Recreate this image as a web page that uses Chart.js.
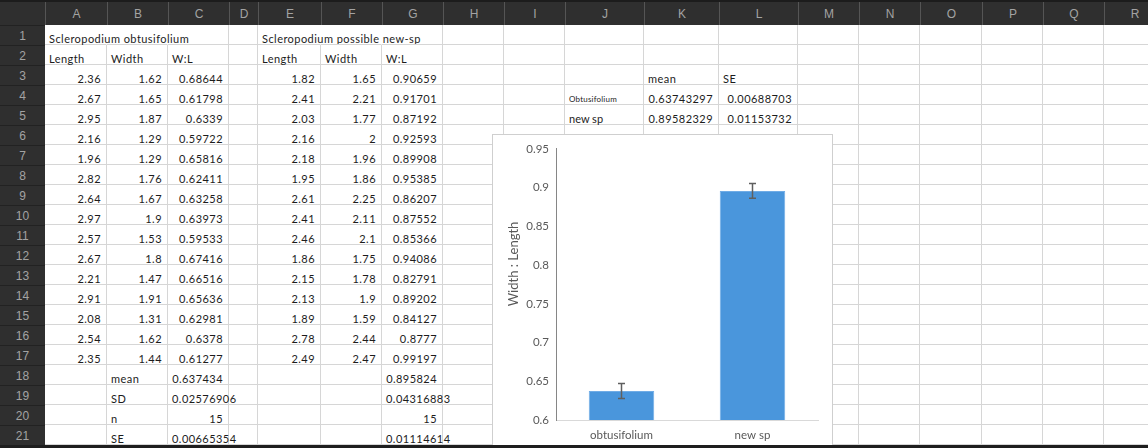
<!DOCTYPE html>
<html>
<head>
<meta charset="utf-8">
<script src="https://cdn.jsdelivr.net/npm/chart.js@4.4.1/dist/chart.umd.min.js"></script>
<style>
html, body { margin: 0; padding: 0; background: #fff; overflow: hidden; }
#sheet { position: relative; width: 1148px; height: 448px; overflow: hidden; background: #fff; font-family: Lato, sans-serif; }
.hd { position: absolute; box-sizing: border-box; background: #2f2f2f; color: #a3a3a3;
      font-family: "Liberation Sans", Arial, sans-serif; font-size: 12px; text-align: center; }
.cell { position: absolute; box-sizing: border-box; border-right: 1px solid #d6d6d6; border-bottom: 1px solid #d6d6d6;
        font-size: 11px; letter-spacing: 0.45px; color: #1c1c1c; white-space: nowrap; padding: 6px 5px 0 4px; line-height: 16px; }
.num { text-align: right; }
.nob { border-right-color: transparent; }
#chartBox { position: absolute; left: 492px; top: 134px; width: 341px; height: 330px; box-sizing: border-box;
            border: 1px solid #cfcfcf; background: #fff; z-index: 5; }
#bottomBar { position: absolute; left: 0; top: 445px; width: 1148px; height: 3px; background: #1e1e1e; z-index: 9; }
</style>
</head>
<body>
<div id="sheet">
  <div id="chartBox"><canvas id="wlChart" width="339" height="328"></canvas></div>
  <div id="bottomBar"></div>
</div>
<script>
// chart data
const groups = ['obtusifolium', 'new sp'];
const wlMean = [0.6374, 0.8958];
const wlErr = [0.0097, 0.0094];

// sheet data
const obtLength = ['2.36', '2.67', '2.95', '2.16', '1.96', '2.82', '2.64', '2.97', '2.57', '2.67', '2.21', '2.91', '2.08', '2.54', '2.35'];
const obtWidth = ['1.62', '1.65', '1.87', '1.29', '1.29', '1.76', '1.67', '1.9', '1.53', '1.8', '1.47', '1.91', '1.31', '1.62', '1.44'];
const obtRatio = ['0.68644', '0.61798', '0.6339', '0.59722', '0.65816', '0.62411', '0.63258', '0.63973', '0.59533', '0.67416', '0.66516', '0.65636', '0.62981', '0.6378', '0.61277'];
const newLength = ['1.82', '2.41', '2.03', '2.16', '2.18', '1.95', '2.61', '2.41', '2.46', '1.86', '2.15', '2.13', '1.89', '2.78', '2.49'];
const newWidth = ['1.65', '2.21', '1.77', '2', '1.96', '1.86', '2.25', '2.11', '2.1', '1.75', '1.78', '1.9', '1.59', '2.44', '2.47'];
const newRatio = ['0.90659', '0.91701', '0.87192', '0.92593', '0.89908', '0.95385', '0.86207', '0.87552', '0.85366', '0.94086', '0.82791', '0.89202', '0.84127', '0.8777', '0.99197'];
const statNames = ['mean', 'SD', 'n', 'SE'];
const obtStats = ['0.637434', '0.02576906', '15', '0.00665354'];
const newStats = ['0.895824', '0.04316883', '15', '0.01114614'];

const colEdges = [45, 107, 168, 229, 258, 321, 382, 443, 504, 565, 644, 719, 798, 859, 920, 982, 1043, 1104, 1165];
const colNames = 'ABCDEFGHIJKLMNOPQR'.split('');
const rowCount = 22;
const sheet = document.getElementById('sheet');

function add(cls, x, y, w, h, text, style) {
    const d = document.createElement('div');
    d.className = cls;
    d.style.left = x + 'px';
    d.style.top = y + 'px';
    d.style.width = w + 'px';
    d.style.height = h + 'px';
    if (text !== undefined) d.textContent = text;
    if (style) Object.assign(d.style, style);
    sheet.appendChild(d);
    return d;
}

const cells = {};
for (let r = 1; r <= rowCount; r++) {
    for (let c = 0; c < colNames.length; c++) {
        const x = colEdges[c], w = colEdges[c + 1] - x;
        cells[colNames[c] + r] = add('cell', x, 25 + 20 * (r - 1), w, 20);
    }
}
function put(ref, text, isNum, style) {
    const d = cells[ref];
    d.textContent = text;
    if (isNum) d.classList.add('num');
    if (style) Object.assign(d.style, style);
}

put('A1', 'Scleropodium obtusifolium');
put('E1', 'Scleropodium possible new-sp');
['A1', 'B1', 'E1', 'F1'].forEach(k => cells[k].classList.add('nob'));
['A', 'E'].forEach(c => put(c + '2', 'Length'));
['B', 'F'].forEach(c => put(c + '2', 'Width'));
['C', 'G'].forEach(c => put(c + '2', 'W:L'));
for (let i = 0; i < 15; i++) {
    const r = i + 3;
    put('A' + r, obtLength[i], true);
    put('B' + r, obtWidth[i], true);
    put('C' + r, obtRatio[i], true);
    put('E' + r, newLength[i], true);
    put('F' + r, newWidth[i], true);
    put('G' + r, newRatio[i], true);
}
statNames.forEach((s, i) => {
    put('B' + (18 + i), s);
    put('C' + (18 + i), obtStats[i], true);
    put('G' + (18 + i), newStats[i], true);
});
put('K3', 'mean');
put('L3', 'SE');
put('J4', 'Obtusifolium', false, { fontSize: '8px', letterSpacing: '0.2px' });
put('J5', 'new sp', false, { letterSpacing: '0px' });
put('K4', '0.63743297', true);
put('L4', '0.00688703', true);
put('K5', '0.89582329', true);
put('L5', '0.01153732', true);

// headers
add('hd', 0, 0, 1148, 25, '', { background: '#2f2f2f' });
add('hd', 0, 0, 1148, 2, '', { background: '#1c1c1c' });
for (let c = 0; c < colNames.length; c++) {
    const x = colEdges[c], w = colEdges[c + 1] - x;
    add('hd', x, 2, w, 23, colNames[c], { borderLeft: '1px solid #555', lineHeight: '25px', background: 'transparent' });
}
for (let r = 1; r <= rowCount; r++) {
    add('hd', 0, 25 + 20 * (r - 1), 45, 20, String(r), { borderTop: '1px solid #222', lineHeight: '21px' });
}

// chart
const errorBars = {
    id: 'errorBars',
    afterDatasetsDraw(chart) {
        const { ctx, scales: { y } } = chart;
        const meta = chart.getDatasetMeta(0);
        ctx.save();
        ctx.strokeStyle = '#5f5f5f';
        ctx.lineWidth = 1.5;
        meta.data.forEach((bar, i) => {
            const top = y.getPixelForValue(wlMean[i] + wlErr[i]);
            const bot = y.getPixelForValue(wlMean[i] - wlErr[i]);
            ctx.beginPath();
            ctx.moveTo(bar.x, top); ctx.lineTo(bar.x, bot);
            ctx.moveTo(bar.x - 3.5, top); ctx.lineTo(bar.x + 3.5, top);
            ctx.moveTo(bar.x - 3.5, bot); ctx.lineTo(bar.x + 3.5, bot);
            ctx.stroke();
        });
        ctx.restore();
    }
};

// y title sits a bit above the plot centre, like the original
const yTitle = {
    id: 'yTitle',
    afterDraw(chart) {
        const ctx = chart.ctx;
        ctx.save();
        ctx.translate(21, 129);
        ctx.rotate(-Math.PI / 2);
        ctx.font = '13px Lato';
        ctx.fillStyle = '#595959';
        ctx.textAlign = 'center';
        ctx.textBaseline = 'middle';
        ctx.fillText('Width : Length', 0, 0);
        ctx.restore();
    }
};

new Chart(document.getElementById('wlChart'), {
    type: 'bar',
    data: {
        labels: groups,
        datasets: [{
            data: wlMean,
            backgroundColor: 'rgb(74, 150, 220)',
            borderColor: 'rgb(112, 172, 230)',
            borderWidth: 1,
            barPercentage: 0.5,
            categoryPercentage: 1.0
        }]
    },
    options: {
        responsive: false,
        animation: false,
        layout: { padding: { top: 12, right: 14, left: 0, bottom: 0 } },
        plugins: { legend: { display: false }, tooltip: { enabled: false } },
        scales: {
            x: {
                grid: { display: false, drawTicks: false },
                border: { color: '#d9d9d9', width: 1 },
                ticks: { color: '#595959', font: { family: 'Lato', size: 11.5 }, padding: 8 },
                afterFit(scale) { scale.height = 43; }
            },
            y: {
                min: 0.6,
                max: 0.95,
                grid: { display: false, drawTicks: false },
                border: { color: '#868686', width: 1 },
                ticks: {
                    stepSize: 0.05,
                    color: '#595959',
                    font: { family: 'Lato', size: 11.5 },
                    padding: 7,
                    callback: v => String(Math.round(v * 100) / 100)
                },
                afterFit(scale) { scale.width = 63; }
            }
        }
    },
    plugins: [errorBars, yTitle]
});
</script>
</body>
</html>
